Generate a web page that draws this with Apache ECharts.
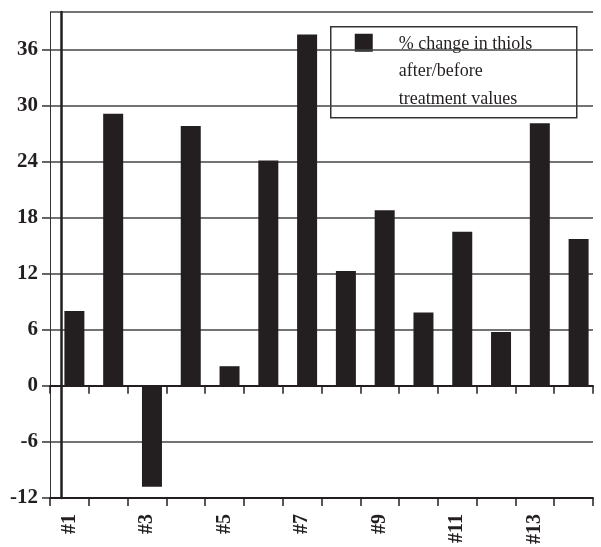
<!DOCTYPE html>
<html>
<head>
<meta charset="utf-8">
<script src="https://cdn.jsdelivr.net/npm/echarts@6/dist/echarts.min.js"></script>
<style>
  html, body { margin: 0; padding: 0; background: #fff; }
  #chart { width: 601px; height: 547px; }
</style>
</head>
<body>
<div id="chart"></div>
<script>
// Patients #1..#14 and the % change in thiols (after vs. before treatment)
const categories = ['#1', '#2', '#3', '#4', '#5', '#6', '#7', '#8', '#9', '#10', '#11', '#12', '#13', '#14'];
const thiolChange = [8.0, 29.1, -10.8, 27.8, 2.1, 24.1, 37.6, 12.3, 18.8, 7.85, 16.5, 5.75, 28.1, 15.7];
const legendLines = ['% change in thiols', 'after/before', 'treatment values'];
const yMin = -12, yMax = 40, yStep = 6;

const ink = '#231f20';
const serif = '"Liberation Serif", "DejaVu Serif", serif';

const chart = echarts.init(document.getElementById('chart'), null, { renderer: 'canvas' });

chart.setOption({
  backgroundColor: '#fff',
  animation: false,
  grid: { left: 50, right: 8, top: 12, bottom: 45, containLabel: false },
  xAxis: [
    {
      // bottom axis carrying the patient labels
      type: 'category',
      data: categories,
      position: 'bottom',
      axisLine: { onZero: false, lineStyle: { color: ink, width: 2 } },
      axisTick: { show: true, alignWithLabel: false, interval: 0, length: 8, lineStyle: { color: ink, width: 1.5 } },
      axisLabel: {
        interval: 1, rotate: 90, margin: 16,
        fontFamily: serif, fontWeight: 'bold', fontSize: 20, color: ink
      },
      splitLine: { show: false }
    },
    {
      // baseline at zero with its own tick marks
      type: 'category',
      data: categories,
      position: 'bottom',
      axisLine: { onZero: true, lineStyle: { color: ink, width: 2 } },
      axisTick: { show: true, interval: 0, length: 8, lineStyle: { color: ink, width: 1.5 } },
      axisLabel: { show: false },
      splitLine: { show: false }
    }
  ],
  yAxis: [
    {
      type: 'value',
      min: yMin, max: yMax, interval: yStep,
      position: 'left',
      axisLine: { show: true, onZero: false, lineStyle: { color: '#333', width: 1 } },
      axisTick: { show: true, length: 8, lineStyle: { color: '#333', width: 1.5 } },
      axisLabel: {
        margin: 12, showMaxLabel: false,
        formatter: v => (v === yMax ? '' : String(v)),
        fontFamily: serif, fontWeight: 'bold', fontSize: 21, color: ink
      },
      splitLine: { show: true, lineStyle: { color: '#444', width: 1.5 } }
    },
    {
      // heavy vertical rule just inside the frame
      type: 'value',
      min: yMin, max: yMax, interval: yStep,
      position: 'left',
      offset: -11,
      axisLine: { show: true, onZero: false, lineStyle: { color: ink, width: 2.5 } },
      axisTick: { show: false },
      axisLabel: { show: false },
      splitLine: { show: false }
    }
  ],
  series: [
    {
      // empty spacer that nudges the bars right of each category centre
      name: 'spacer',
      type: 'bar',
      barWidth: 10,
      barGap: '0%',
      data: categories.map(() => null),
      silent: true
    },
    {
      name: legendLines.join(' '),
      type: 'bar',
      barWidth: 20,
      barGap: '0%',
      data: thiolChange,
      itemStyle: { color: ink }
    }
  ],
  graphic: [
    {
      type: 'group',
      left: 330, top: 26,
      children: [
        {
          type: 'rect',
          shape: { x: 0, y: 0, width: 246, height: 91 },
          style: { fill: '#fff', stroke: '#333', lineWidth: 1.5 }
        },
        {
          type: 'rect',
          shape: { x: 24, y: 7, width: 18, height: 18 },
          style: { fill: ink }
        },
        {
          type: 'text',
          x: 68, y: 3.5,
          style: {
            text: legendLines.join('\n'),
            font: '18px ' + serif,
            fill: ink,
            lineHeight: 27.5,
            verticalAlign: 'top',
            align: 'left'
          }
        }
      ]
    }
  ]
});
</script>
</body>
</html>
